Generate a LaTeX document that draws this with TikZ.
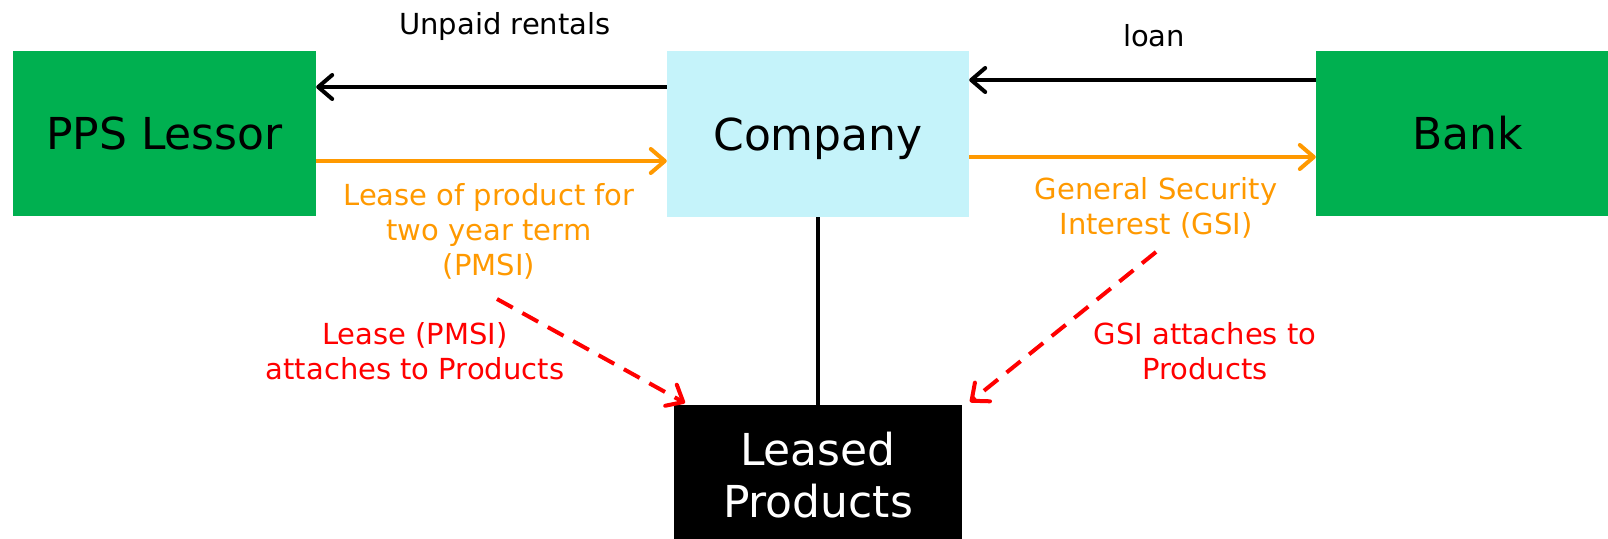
\documentclass[tikz,border=0pt]{standalone}
\usepackage{fontspec}
\setmainfont{DejaVu Sans}
\usetikzlibrary{arrows.meta}
\definecolor{boxgreen}{RGB}{0,176,80}
\definecolor{boxcyan}{RGB}{197,243,250}
\definecolor{ora}{RGB}{255,153,0}
\definecolor{rd}{RGB}{255,0,0}
\tikzset{
  big/.style={font=\fontsize{44}{52}\selectfont, align=center, inner sep=0pt},
  oneline/.style={big, text height=32pt, text depth=0pt},
  small/.style={font=\fontsize{29}{35}\selectfont, align=center, inner sep=0pt},
  barb/.style={-{Straight Barb[length=14pt,width=24pt,line cap=round,line join=round]}, line width=4pt},
  blkarrow/.style={barb, draw=black},
  oraarrow/.style={barb, draw=ora},
  rdarrow/.style={barb, draw=rd, dash pattern=on 18pt off 11pt},
}
\begin{document}
\begin{tikzpicture}[x=1pt,y=-1pt]
\useasboundingbox (0,0) rectangle (1608,538);
\node[oneline, fill=boxgreen, minimum width=303pt, minimum height=165pt] (pps) at (164.5,133.5) {PPS Lessor};
\node[oneline, fill=boxcyan, minimum width=302pt, minimum height=166pt] (company) at (818,134) {Company};
\node[oneline, fill=boxgreen, minimum width=304pt, minimum height=165pt] (bank) at (1468,133.5) {Bank};
\node[big, fill=black, text=white, minimum width=288pt, minimum height=140pt] (leased) at (818,475) {Leased\\Products};

\node[small] (unpaid) at (505,26) {Unpaid rentals};
\node[small] (loan) at (1154,36) {loan};
\node[small, text=ora] (leaselbl) at (489,231) {Lease of product for\\two year term\\(PMSI)};
\node[small, text=ora] (gsilbl) at (1156,208) {General Security\\Interest (GSI)};
\node[small, text=rd] (pmsiatt) at (415,351) {Lease (PMSI)\\attaches to Products};
\node[small, text=rd] (gsiatt) at (1205,351) {GSI attaches to\\Products};

\draw[blkarrow] (company.west |- 0,87) -- (pps.east |- 0,87);
\draw[oraarrow] (pps.east |- 0,161) -- (company.west |- 0,161);
\draw[blkarrow] (bank.west |- 0,80) -- (company.east |- 0,80);
\draw[oraarrow] (company.east |- 0,157) -- (bank.west |- 0,157);
\draw[line width=4pt] (company.south) -- (leased.north);

\coordinate (ls) at (497,299);
\coordinate (le) at (685,403);
\coordinate (rs) at (1156,252);
\coordinate (re) at (970,402);
\draw[rdarrow] (ls) -- (le);
\draw[rdarrow] (rs) -- (re);
\end{tikzpicture}
\end{document}
